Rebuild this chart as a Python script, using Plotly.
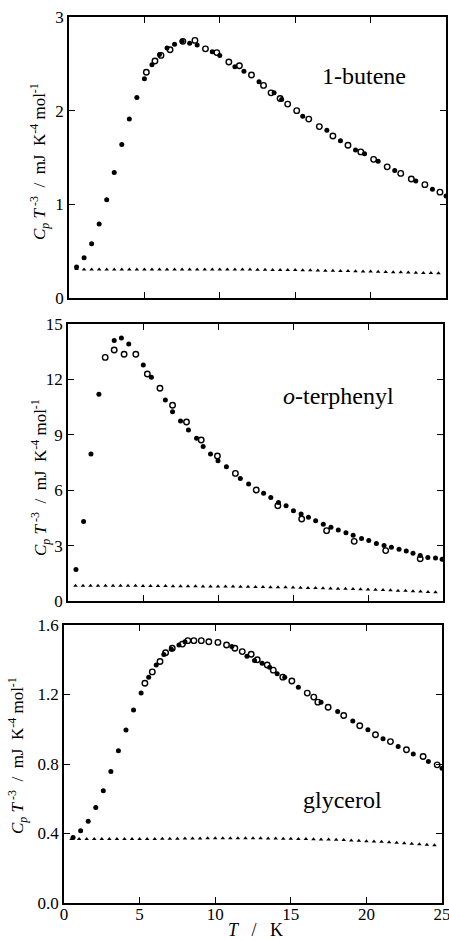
import plotly.graph_objects as go

W, H = 449, 941

# ---------------- data ----------------
tri_x = [0.5, 1.0, 1.5, 2.0, 2.5, 3.0, 3.5, 4.0, 4.5, 5.0,
         5.5, 6.0, 6.5, 7.0, 7.5, 8.0, 8.5, 9.0, 9.5, 10.0,
         10.5, 11.0, 11.5, 12.0, 12.5, 13.0, 13.5, 14.0, 14.5, 15.0,
         15.5, 16.0, 16.5, 17.0, 17.5, 18.0, 18.5, 19.0, 19.5, 20.0,
         20.5, 21.0, 21.5, 22.0, 22.5, 23.0, 23.5, 24.0, 24.5]

# 1-butene
but_fill_x = [0.5, 1.0, 1.5, 2.0, 2.5, 3.0, 3.5, 4.0, 4.5, 5.0, 5.5, 6.0, 6.5, 7.0, 7.5, 8.0, 8.5,
              9.5, 10.0, 11.0, 11.6, 12.6, 13.6, 14.1, 15.5, 17.1, 18.0, 19.0, 19.6, 20.5, 21.6,
              23.0, 24.1, 25.0]
but_fill_y = [0.33, 0.43, 0.58, 0.79, 1.05, 1.34, 1.64, 1.91, 2.14, 2.34, 2.49, 2.60, 2.67, 2.71,
              2.74, 2.72, 2.70, 2.63, 2.59, 2.47, 2.42, 2.31, 2.19, 2.12, 1.94, 1.79, 1.68, 1.58,
              1.54, 1.46, 1.36, 1.25, 1.16, 1.09]
but_open_x = [5.13, 5.7, 6.1, 6.7, 7.55, 8.35, 9.05, 9.8, 10.6, 11.3, 12.1, 12.9, 13.4, 14.0,
              14.5, 15.1, 15.9, 16.6, 17.5, 18.5, 19.35, 20.2, 21.1, 22.0, 22.7, 23.6, 24.6]
but_open_y = [2.41, 2.53, 2.59, 2.65, 2.74, 2.75, 2.66, 2.62, 2.52, 2.48, 2.38, 2.27, 2.19, 2.13,
              2.07, 2.00, 1.91, 1.83, 1.73, 1.63, 1.56, 1.48, 1.40, 1.33, 1.27, 1.21, 1.13]
but_tri_y = [0.31, 0.305, 0.305, 0.305, 0.305, 0.305, 0.305, 0.305, 0.305, 0.305,
             0.305, 0.305, 0.305, 0.305, 0.305, 0.305, 0.305, 0.305, 0.305, 0.305,
             0.305, 0.305, 0.303, 0.303, 0.302, 0.302, 0.300, 0.300, 0.300, 0.298,
             0.297, 0.295, 0.294, 0.292, 0.290, 0.289, 0.287, 0.285, 0.283, 0.282,
             0.280, 0.278, 0.276, 0.274, 0.272, 0.270, 0.268, 0.266, 0.265]

# o-terphenyl
otp_fill_x = [0.53, 1.04, 1.53, 2.06, 3.08, 3.56, 4.05, 5.02, 5.56, 6.49, 6.97, 7.50, 8.03, 8.57,
              9.01, 9.50, 10.0, 10.56, 11.49, 12.04, 13.04, 13.52, 14.03, 14.54, 15.03, 15.54,
              16.03, 16.51, 17.02, 17.53, 18.02, 18.53, 19.01, 19.57, 20.05, 20.56, 21.07, 21.56,
              22.07, 22.55, 23.0, 23.48, 23.99, 24.5, 24.94]
otp_fill_y = [1.71, 4.30, 7.96, 11.19, 14.10, 14.24, 13.92, 12.78, 12.11, 10.88, 10.25, 9.75,
              9.26, 8.81, 8.36, 7.96, 7.60, 7.27, 6.64, 6.34, 5.83, 5.60, 5.34, 5.16, 4.89, 4.71,
              4.53, 4.35, 4.15, 3.99, 3.84, 3.70, 3.56, 3.38, 3.27, 3.12, 3.01, 2.91, 2.80, 2.71,
              2.58, 2.47, 2.36, 2.33, 2.26]
otp_open_x = [2.48, 3.08, 3.74, 4.52, 5.29, 6.13, 6.97, 7.90, 8.88, 9.96, 11.16, 12.55, 13.99,
              15.58, 17.24, 19.08, 21.18, 23.48]
otp_open_y = [13.19, 13.59, 13.36, 13.36, 12.29, 11.52, 10.60, 9.69, 8.72, 7.85, 6.91, 6.01,
              5.16, 4.44, 3.81, 3.23, 2.73, 2.29]
otp_tri_y = [0.82, 0.82, 0.82, 0.82, 0.82, 0.82, 0.82, 0.82, 0.82, 0.81,
             0.81, 0.81, 0.81, 0.80, 0.80, 0.80, 0.80, 0.79, 0.79, 0.79,
             0.78, 0.78, 0.77, 0.77, 0.76, 0.76, 0.75, 0.75, 0.74, 0.73,
             0.72, 0.71, 0.70, 0.69, 0.68, 0.67, 0.66, 0.65, 0.64, 0.62,
             0.61, 0.59, 0.58, 0.56, 0.55, 0.53, 0.51, 0.49, 0.47]

# glycerol
gly_fill_x = [0.6, 1.1, 1.6, 2.1, 2.6, 3.1, 3.6, 4.1, 4.6, 5.1, 5.6, 6.1, 6.6, 7.1, 7.6, 8.0,
              11.1, 12.1, 12.6, 13.1, 13.6, 14.1, 14.6, 15.5, 17.0, 18.1, 19.1, 20.1, 21.1, 22.1,
              23.1, 24.1, 25.0]
gly_fill_y = [0.377, 0.416, 0.471, 0.550, 0.646, 0.757, 0.876, 0.996, 1.111, 1.209, 1.30, 1.37,
              1.43, 1.46, 1.485, 1.504, 1.476, 1.42, 1.395, 1.38, 1.357, 1.32, 1.30, 1.242, 1.156,
              1.102, 1.048, 0.997, 0.945, 0.90, 0.857, 0.814, 0.776]
gly_open_x = [5.35, 5.84, 6.35, 6.72, 7.16, 7.83, 8.19, 8.59, 9.08, 9.58, 10.18, 10.75, 11.30,
              11.79, 12.38, 12.78, 13.44, 13.84, 14.47, 15.07, 16.09, 16.52, 16.79, 17.47, 18.5,
              19.56, 20.6, 21.59, 22.65, 23.75, 24.68]
gly_open_y = [1.265, 1.33, 1.39, 1.44, 1.466, 1.49, 1.51, 1.51, 1.51, 1.504, 1.50, 1.485, 1.466,
              1.447, 1.432, 1.40, 1.37, 1.34, 1.30, 1.278, 1.208, 1.185, 1.156, 1.127, 1.079,
              1.02, 0.968, 0.929, 0.882, 0.843, 0.795]
gly_tri_y = [0.368, 0.368, 0.368, 0.368, 0.368, 0.368, 0.368, 0.368, 0.368, 0.368,
             0.369, 0.369, 0.370, 0.370, 0.370, 0.371, 0.371, 0.371, 0.372, 0.372,
             0.372, 0.372, 0.372, 0.372, 0.372, 0.372, 0.371, 0.371, 0.370, 0.370,
             0.369, 0.368, 0.367, 0.366, 0.365, 0.364, 0.362, 0.360, 0.358, 0.356,
             0.354, 0.352, 0.349, 0.347, 0.344, 0.341, 0.338, 0.335, 0.332]

panels = [
    dict(name="1-butene", fx=but_fill_x, fy=but_fill_y, ox=but_open_x, oy=but_open_y, ty=but_tri_y,
         yrange=[0, 3], dtick=1, fmt="d", px_x=(69, 446), px_y=(17, 298)),
    dict(name="o-terphenyl", fx=otp_fill_x, fy=otp_fill_y, ox=otp_open_x, oy=otp_open_y, ty=otp_tri_y,
         yrange=[0, 15], dtick=3, fmt="d", px_x=(68, 443), px_y=(324, 601)),
    dict(name="glycerol", fx=gly_fill_x, fy=gly_fill_y, ox=gly_open_x, oy=gly_open_y, ty=gly_tri_y,
         yrange=[0, 1.6], dtick=0.4, fmt=".1f", px_x=(64, 442), px_y=(625, 903)),
]

FONT = "Liberation Serif, Times New Roman, Times, DejaVu Serif, serif"
fig = go.Figure()
layout = dict(width=W, height=H, margin=dict(l=0, r=0, t=0, b=0, autoexpand=False),
              paper_bgcolor="white", plot_bgcolor="white", showlegend=False,
              font=dict(family=FONT, color="black", size=17))

for i, p in enumerate(panels, start=1):
    xa = "x" if i == 1 else f"x{i}"
    ya = "y" if i == 1 else f"y{i}"
    fig.add_trace(go.Scatter(x=tri_x, y=p["ty"], mode="markers", xaxis=xa, yaxis=ya,
                             marker=dict(symbol="triangle-up", size=4, color="black")))
    fig.add_trace(go.Scatter(x=p["fx"], y=p["fy"], mode="markers", xaxis=xa, yaxis=ya,
                             marker=dict(symbol="circle", size=5, color="black")))
    fig.add_trace(go.Scatter(x=p["ox"], y=p["oy"], mode="markers", xaxis=xa, yaxis=ya,
                             marker=dict(symbol="circle-open", size=5.5, color="black",
                                         line=dict(width=1.4, color="black"))))
    xkey = "xaxis" if i == 1 else f"xaxis{i}"
    ykey = "yaxis" if i == 1 else f"yaxis{i}"
    x0, x1 = p["px_x"]
    yt, yb = p["px_y"]
    layout[xkey] = dict(domain=[x0 / W, x1 / W], anchor=ya, range=[0, 25], dtick=5, tick0=0,
                        showline=True, mirror="ticks", linecolor="black", linewidth=1.6,
                        ticks="inside", ticklen=6, tickwidth=1.4, tickcolor="black",
                        showgrid=False, zeroline=False, showticklabels=(i == 3),
                        ticklabeloverflow="allow", ticklabelstandoff=-5,
                        automargin=False, fixedrange=True,
                        tickfont=dict(family=FONT, size=17, color="black"))
    layout[ykey] = dict(domain=[1 - yb / H, 1 - yt / H], anchor=xa, range=p["yrange"],
                        dtick=p["dtick"], tick0=0, tickformat=p["fmt"],
                        showline=True, mirror="ticks", linecolor="black", linewidth=1.6,
                        ticks="inside", ticklen=6, tickwidth=1.4, tickcolor="black",
                        showgrid=False, zeroline=False, automargin=False, fixedrange=True,
                        ticklabeloverflow="allow",
                        tickfont=dict(family=FONT, size=17, color="black"))

ytitle = "<i>C<sub>p</sub> T</i><sup> -3</sup>  /  mJ  K<sup>-4</sup> mol<sup>-1</sup>"
annots = []
for cx, cy in [(40, 162), (40, 478), (17, 756)]:
    annots.append(dict(text=ytitle, xref="paper", yref="paper", x=cx / W, y=1 - cy / H,
                       xanchor="center", yanchor="middle", textangle=-90, showarrow=False,
                       font=dict(family=FONT, size=17, color="black")))
for txt, cx, cy in [("1-butene", 364, 76), ("<i>o</i>-terphenyl", 338, 396), ("glycerol", 342, 800)]:
    annots.append(dict(text=txt, xref="paper", yref="paper", x=cx / W, y=1 - cy / H,
                       xanchor="center", yanchor="middle", showarrow=False,
                       font=dict(family=FONT, size=24, color="black")))
annots.append(dict(text="<i>T</i>   /   K", xref="paper", yref="paper", x=255 / W, y=0,
                   xanchor="center", yanchor="bottom", showarrow=False, borderpad=0,
                   font=dict(family=FONT, size=18, color="black")))
layout["annotations"] = annots

fig.update_layout(**layout)
fig.write_html("out.html", config={"displayModeBar": False},
               post_script="document.body.style.margin='0';document.body.style.padding='0';"
                           "document.body.style.overflow='hidden';")
